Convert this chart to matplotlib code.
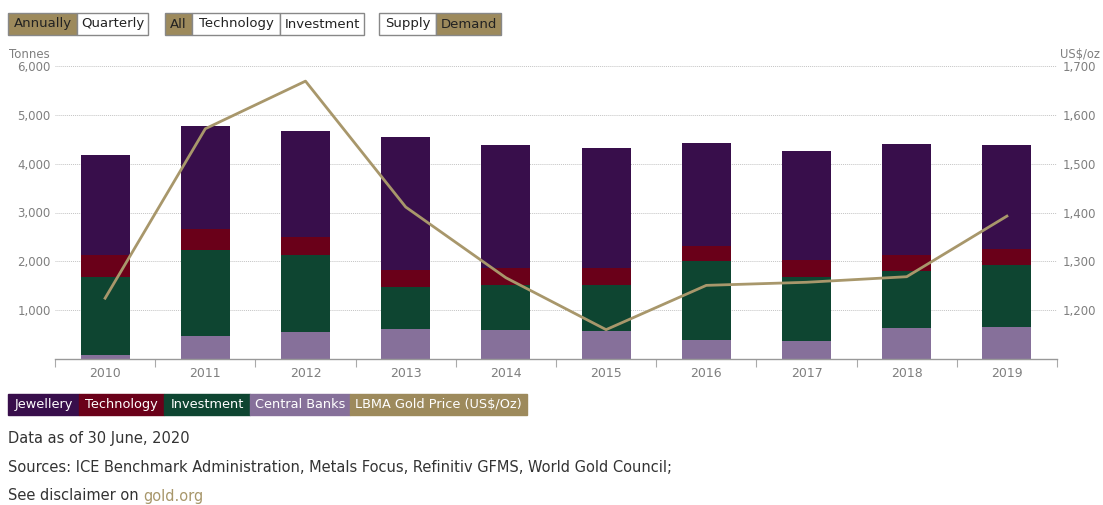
import matplotlib
matplotlib.use("Agg")
import matplotlib.pyplot as plt
from matplotlib.patches import Rectangle
import numpy as np

years = ["2010", "2011", "2012", "2013", "2014", "2015", "2016", "2017", "2018", "2019"]
central_banks = [75, 465, 561, 623, 594, 574, 383, 369, 643, 664]
investment = [1600, 1762, 1564, 852, 916, 950, 1619, 1311, 1160, 1270]
technology = [451, 425, 375, 357, 355, 341, 314, 342, 336, 314]
jewellery = [2049, 2116, 2166, 2711, 2514, 2459, 2098, 2234, 2261, 2131]
gold_price = [1224.5, 1571.5, 1669.0, 1411.2, 1266.4, 1160.1, 1250.8, 1257.1, 1268.5, 1392.6]

left_ticks = [1000, 2000, 3000, 4000, 5000, 6000]
right_ticks = [1200, 1300, 1400, 1500, 1600, 1700]

C_JEW = "#380e4b"
C_TECH = "#6a0019"
C_INV = "#0e4531"
C_CB = "#86709a"
C_GOLD = "#a8976b"
C_GOLD_BTN = "#9d8a5c"
GRAY = "#7f7f7f"

W, H = 1103, 505
fig = plt.figure(figsize=(W / 100, H / 100), dpi=100)

def fx(x):
    return x / W

def fy(y):
    return 1 - y / H

ax_l, ax_r, ax_t, ax_b = 55, 1057, 66, 359
ax = fig.add_axes([fx(ax_l), fy(ax_b), fx(ax_r - ax_l), (ax_b - ax_t) / H])
x = np.arange(len(years))
bw = 0.49
b1 = np.array(central_banks)
b2 = b1 + np.array(investment)
b3 = b2 + np.array(technology)
ax.bar(x, central_banks, bw, color=C_CB, zorder=2)
ax.bar(x, investment, bw, bottom=b1, color=C_INV, zorder=2)
ax.bar(x, technology, bw, bottom=b2, color=C_TECH, zorder=2)
ax.bar(x, jewellery, bw, bottom=b3, color=C_JEW, zorder=2)
ax.set_xlim(-0.5, len(years) - 0.5)
ax.set_ylim(0, 6000)
ax.set_yticks(left_ticks)
ax.set_yticklabels([f"{v:,}" for v in left_ticks])
ax.set_xticks(x)
ax.set_xticklabels(years)
ax.set_xticks(np.arange(len(years) + 1) - 0.5, minor=True)
ax.tick_params(axis="x", which="major", length=0, pad=6, labelsize=9, labelcolor=GRAY)
ax.tick_params(axis="x", which="minor", length=6, width=0.8, color="#aaaaaa")
ax.tick_params(axis="y", length=0, pad=3, labelsize=8.5, labelcolor=GRAY)
ax.grid(axis="y", linestyle=(0, (1, 1)), color="#c4c4c4", linewidth=0.7, zorder=0)
for s in ["top", "left", "right"]:
    ax.spines[s].set_visible(False)
ax.spines["bottom"].set_color("#999999")
ax.spines["bottom"].set_linewidth(1.0)

ax2 = ax.twinx()
ax2.plot(x, gold_price, color=C_GOLD, linewidth=2.0, zorder=3)
ax2.set_ylim(1100, 1700)
ax2.set_yticks(right_ticks)
ax2.set_yticklabels([f"{v:,}" for v in right_ticks])
ax2.tick_params(axis="y", length=0, pad=4, labelsize=8.5, labelcolor=GRAY)
for s in ["top", "left", "right", "bottom"]:
    ax2.spines[s].set_visible(False)

fig.text(fx(9), fy(54), "Tonnes", fontsize=8.5, color=GRAY, va="center", ha="left")
fig.text(fx(1060), fy(54), "US$/oz", fontsize=8.3, color=GRAY, va="center", ha="left")

def box(x0, x1, y0, y1, label, fill, tc, edge=None, fs=9.5):
    fig.patches.append(Rectangle((fx(x0), fy(y1)), fx(x1 - x0), (y1 - y0) / H,
                                 transform=fig.transFigure, facecolor=fill,
                                 edgecolor=edge if edge else fill, linewidth=1.0))
    fig.text(fx((x0 + x1) / 2), fy((y0 + y1) / 2), label, fontsize=fs, color=tc,
             ha="center", va="center")

buttons = [
    (8, 77, "Annually", True), (77, 148, "Quarterly", False),
    (165, 192, "All", True), (192, 280, "Technology", False), (280, 364, "Investment", False),
    (379, 436, "Supply", False), (436, 501, "Demand", True),
]
for x0, x1, lab, on in buttons:
    box(x0, x1, 13, 35, lab, C_GOLD_BTN if on else "white", "#222222", edge="#888888")

legend = [
    (8, 79, "Jewellery", C_JEW), (79, 164, "Technology", C_TECH),
    (164, 250, "Investment", C_INV), (250, 350, "Central Banks", C_CB),
    (350, 527, "LBMA Gold Price (US$/Oz)", C_GOLD_BTN),
]
for x0, x1, lab, col in legend:
    box(x0, x1, 394, 415, lab, col, "white", fs=9.3)

FS = 10.5
fig.text(fx(8), fy(438), "Data as of 30 June, 2020", fontsize=FS, color="#333333", va="center")
fig.text(fx(8), fy(467), "Sources: ICE Benchmark Administration, Metals Focus, Refinitiv GFMS, World Gold Council;",
         fontsize=FS, color="#333333", va="center")
t = fig.text(fx(8), fy(496), "See disclaimer on", fontsize=FS, color="#333333", va="center")
renderer = fig.canvas.get_renderer()
bb = t.get_window_extent(renderer=renderer)
space = FS * 100 / 72 * 0.32
fig.text((bb.x1 + space) / W, fy(496), "gold.org", fontsize=FS, color="#a8976b", va="center")

fig.savefig("out.png", dpi=100)
